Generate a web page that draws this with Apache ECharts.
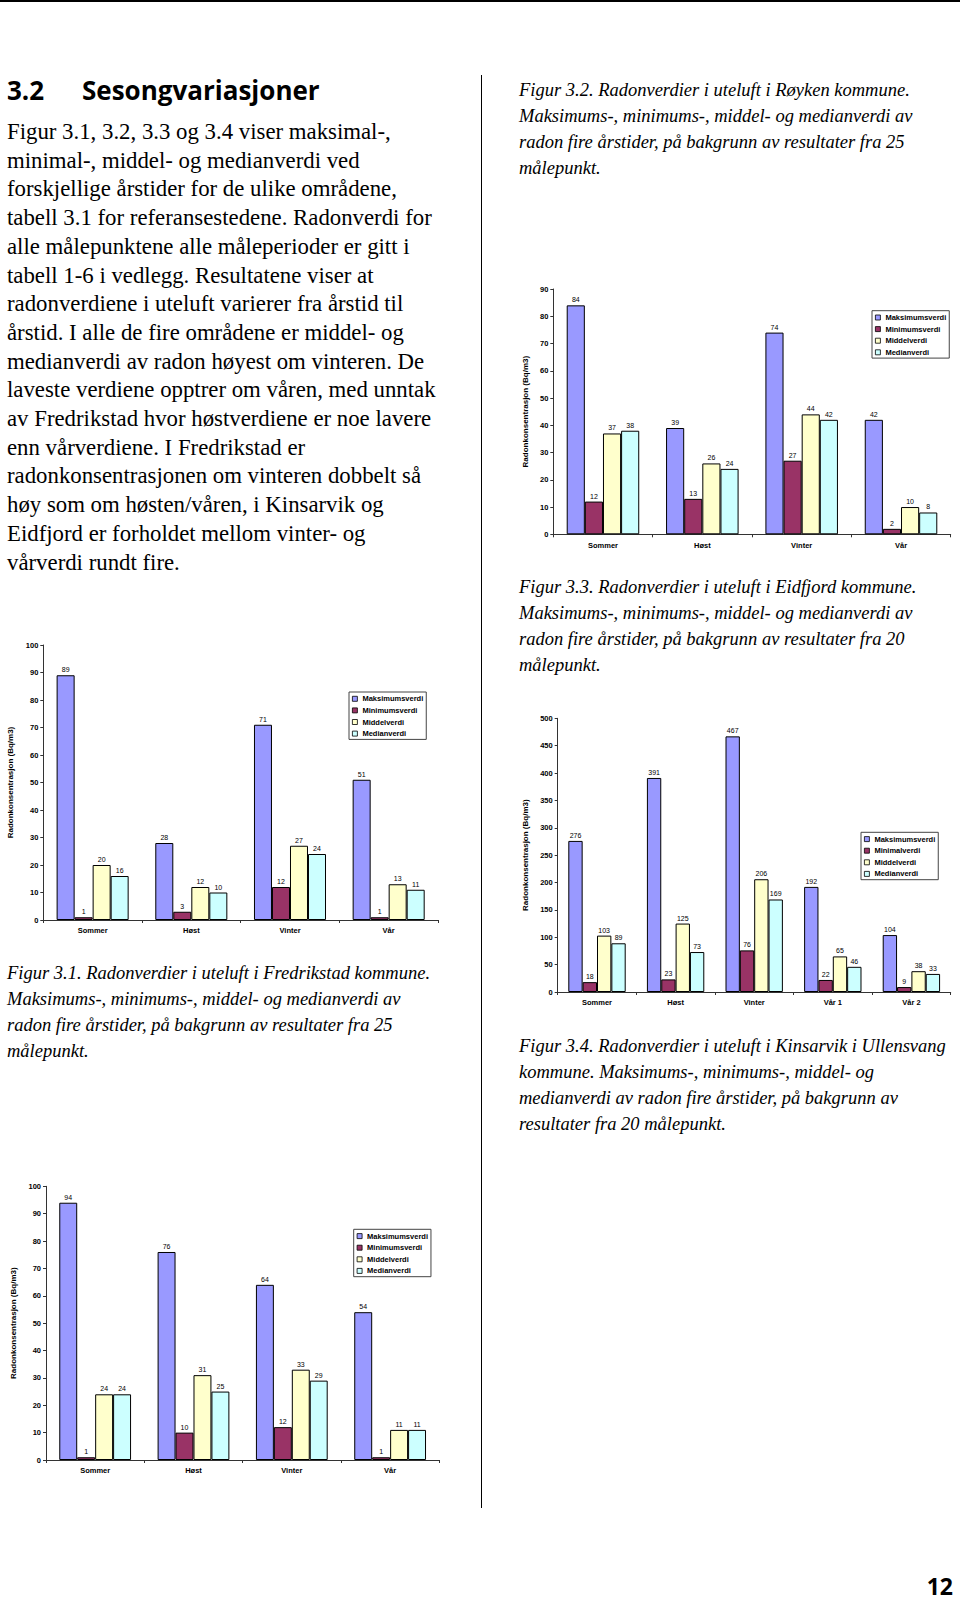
<!DOCTYPE html>
<html>
<head>
<meta charset="utf-8">
<script src="https://cdn.jsdelivr.net/npm/echarts@6/dist/echarts.min.js"></script>
<style>
  html, body { margin: 0; padding: 0; background: #fff; }
  body { width: 960px; height: 1599px; position: relative; overflow: hidden; color: #000; }
  .abs { position: absolute; }
  .bodytext { font-family: 'Liberation Serif', serif; font-size: 22.8px; line-height: 28.7px; white-space: nowrap; }
  .cap { font-family: 'Liberation Serif', serif; font-style: italic; font-size: 18.5px; line-height: 26px; white-space: nowrap; }
  .head { font-family: 'Open Sans', sans-serif; font-weight: bold; font-size: 26px; line-height: 30px; white-space: nowrap; }
  .chart { position: absolute; }
</style>
</head>
<body>
<div class="abs" style="left:0;top:0;width:960px;height:1.5px;background:#000"></div>
<div class="abs" style="left:480.5px;top:75px;width:1.5px;height:1433px;background:#000"></div>

<div class="abs head" style="left:7px;top:75px">3.2</div>
<div class="abs head" style="left:82px;top:75px">Sesongvariasjoner</div>

<div class="abs bodytext" style="left:7px;top:118px">
Figur 3.1, 3.2, 3.3 og 3.4 viser maksimal-,<br>
minimal-, middel- og medianverdi ved<br>
forskjellige årstider for de ulike områdene,<br>
tabell 3.1 for referansestedene. Radonverdi for<br>
alle målepunktene alle måleperioder er gitt i<br>
tabell 1-6 i vedlegg. Resultatene viser at<br>
radonverdiene i uteluft varierer fra årstid til<br>
årstid. I alle de fire områdene er middel- og<br>
medianverdi av radon høyest om vinteren. De<br>
laveste verdiene opptrer om våren, med unntak<br>
av Fredrikstad hvor høstverdiene er noe lavere<br>
enn vårverdiene. I Fredrikstad er<br>
radonkonsentrasjonen om vinteren dobbelt så<br>
høy som om høsten/våren, i Kinsarvik og<br>
Eidfjord er forholdet mellom vinter- og<br>
vårverdi rundt fire.
</div>

<div class="abs cap" style="left:7px;top:960px">
Figur 3.1. Radonverdier i uteluft i Fredrikstad kommune.<br>
Maksimums-, minimums-, middel- og medianverdi av<br>
radon fire årstider, på bakgrunn av resultater fra 25<br>
målepunkt.
</div>
<div class="abs cap" style="left:519px;top:76.5px">
Figur 3.2. Radonverdier i uteluft i Røyken kommune.<br>
Maksimums-, minimums-, middel- og medianverdi av<br>
radon fire årstider, på bakgrunn av resultater fra 25<br>
målepunkt.
</div>
<div class="abs cap" style="left:519px;top:574px">
Figur 3.3. Radonverdier i uteluft i Eidfjord kommune.<br>
Maksimums-, minimums-, middel- og medianverdi av<br>
radon fire årstider, på bakgrunn av resultater fra 20<br>
målepunkt.
</div>
<div class="abs cap" style="left:519px;top:1032.5px">
Figur 3.4. Radonverdier i uteluft i Kinsarvik i Ullensvang<br>
kommune. Maksimums-, minimums-, middel- og<br>
medianverdi av radon fire årstider, på bakgrunn av<br>
resultater fra 20 målepunkt.
</div>

<div class="abs head" style="right:7px;top:1576px;font-size:23px;line-height:20px">12</div>

<div id="c1" class="chart" style="left:0px;top:630px;width:460px;height:320px"></div>
<div id="c2" class="chart" style="left:510px;top:270px;width:450px;height:290px"></div>
<div id="c3" class="chart" style="left:510px;top:700px;width:450px;height:320px"></div>
<div id="c4" class="chart" style="left:0px;top:1170px;width:460px;height:310px"></div>

<script>
// ---------- DATA ----------
const seasons4 = ['Sommer', 'Høst', 'Vinter', 'Vår'];
const seasons5 = ['Sommer', 'Høst', 'Vinter', 'Vår 1', 'Vår 2'];
const seriesNames = ['Maksimumsverdi', 'Minimumsverdi', 'Middelverdi', 'Medianverdi'];
const seriesNames3 = ['Maksimumsverdi', 'Minimalverdi', 'Middelverdi', 'Medianverdi'];
const yAxisTitle = 'Radonkonsentrasjon (Bq/m3)';

// Figur 3.1 Fredrikstad
const fredMax = [89, 28, 71, 51];
const fredMin = [1, 3, 12, 1];
const fredMiddel = [20, 12, 27, 13];
const fredMedian = [16, 10, 24, 11];

// Figur 3.2 Røyken
const roykMax = [84, 39, 74, 42];
const roykMin = [12, 13, 27, 2];
const roykMiddel = [37, 26, 44, 10];
const roykMedian = [38, 24, 42, 8];

// Figur 3.3 Eidfjord
const eidMax = [276, 391, 467, 192, 104];
const eidMin = [18, 23, 76, 22, 9];
const eidMiddel = [103, 125, 206, 65, 38];
const eidMedian = [89, 73, 169, 46, 33];

// Figur 3.4 Kinsarvik
const kinMax = [94, 76, 64, 54];
const kinMin = [1, 10, 12, 1];
const kinMiddel = [24, 31, 33, 11];
const kinMedian = [24, 25, 29, 11];

// ---------- STYLE ----------
const COLORS = ['#9999FF', '#993366', '#FFFFCC', '#CCFFFF'];
const FONT = 'Liberation Sans, Arial, sans-serif';
const AXIS_COLOR = '#333';

function buildOption(cfg) {
  return {
    animation: false,
    textStyle: { fontFamily: FONT },
    grid: Object.assign({ containLabel: false, outerBoundsMode: 'none' }, cfg.grid),
    legend: {
      orient: 'vertical',
      left: cfg.legend.left,
      top: cfg.legend.top,
      data: cfg.names,
      icon: 'rect',
      itemWidth: 5,
      itemHeight: 5,
      itemGap: 0,
      padding: [1, 3, 0, 3],
      borderColor: '#444',
      borderWidth: 1,
      backgroundColor: '#fff',
      selectedMode: false,
      itemStyle: { borderColor: '#000', borderWidth: 0.8 },
      textStyle: { fontFamily: FONT, fontSize: 7.5, fontWeight: 'bold', color: '#000', lineHeight: 11.6 }
    },
    xAxis: {
      type: 'category',
      data: cfg.categories,
      boundaryGap: true,
      axisLine: { show: true, lineStyle: { color: AXIS_COLOR, width: 1 } },
      axisTick: { show: true, length: 3, inside: false, alignWithLabel: false, lineStyle: { color: AXIS_COLOR } },
      axisLabel: { margin: cfg.xMargin, fontSize: 7.5, fontWeight: 'bold', color: '#000', fontFamily: FONT },
      splitLine: { show: false }
    },
    yAxis: {
      type: 'value',
      min: 0,
      max: cfg.yMax,
      interval: cfg.yInterval,
      name: yAxisTitle,
      nameLocation: 'middle',
      nameGap: cfg.nameGap,
      nameTextStyle: { fontFamily: FONT, fontSize: 8, fontWeight: 'bold', color: '#000' },
      axisLine: { show: true, lineStyle: { color: AXIS_COLOR, width: 1 } },
      axisTick: { show: true, length: 3, inside: false, lineStyle: { color: AXIS_COLOR } },
      axisLabel: { margin: 5, fontSize: 7.5, fontWeight: 'bold', color: '#000', fontFamily: FONT },
      splitLine: { show: false }
    },
    series: cfg.names.map((n, i) => ({
      type: 'bar',
      name: n,
      data: cfg.values[i],
      barGap: '0%',
      barCategoryGap: '27%',
      itemStyle: { color: COLORS[i], borderColor: '#000', borderWidth: 1 },
      label: { show: true, position: 'top', distance: 2, fontSize: 7, color: '#000', fontFamily: FONT },
      emphasis: { disabled: true }
    }))
  };
}

const charts = [
  {
    el: 'c1', categories: seasons4, names: seriesNames,
    values: [fredMax, fredMin, fredMiddel, fredMedian],
    grid: { left: 43.3, top: 15, width: 394.7, height: 275 },
    yMax: 100, yInterval: 10, nameGap: 19, xMargin: 6.5,
    legend: { left: 349, top: 62 }
  },
  {
    el: 'c2', categories: seasons4, names: seriesNames,
    values: [roykMax, roykMin, roykMiddel, roykMedian],
    grid: { left: 43.3, top: 19, width: 397.4, height: 245.3 },
    yMax: 90, yInterval: 10, nameGap: 17, xMargin: 7.5,
    legend: { left: 362, top: 40.7 }
  },
  {
    el: 'c3', categories: seasons5, names: seriesNames3,
    values: [eidMax, eidMin, eidMiddel, eidMedian],
    grid: { left: 47.7, top: 18.3, width: 393, height: 273.7 },
    yMax: 500, yInterval: 50, nameGap: 21.5, xMargin: 6.5,
    legend: { left: 351, top: 132.3 }
  },
  {
    el: 'c4', categories: seasons4, names: seriesNames,
    values: [kinMax, kinMin, kinMiddel, kinMedian],
    grid: { left: 46, top: 16.3, width: 393.3, height: 273.7 },
    yMax: 100, yInterval: 10, nameGap: 21.5, xMargin: 6.5,
    legend: { left: 353.7, top: 59.3 }
  }
];

charts.forEach(cfg => {
  const inst = echarts.init(document.getElementById(cfg.el), null, { renderer: 'svg' });
  inst.setOption(buildOption(cfg));
});
</script>
</body>
</html>
